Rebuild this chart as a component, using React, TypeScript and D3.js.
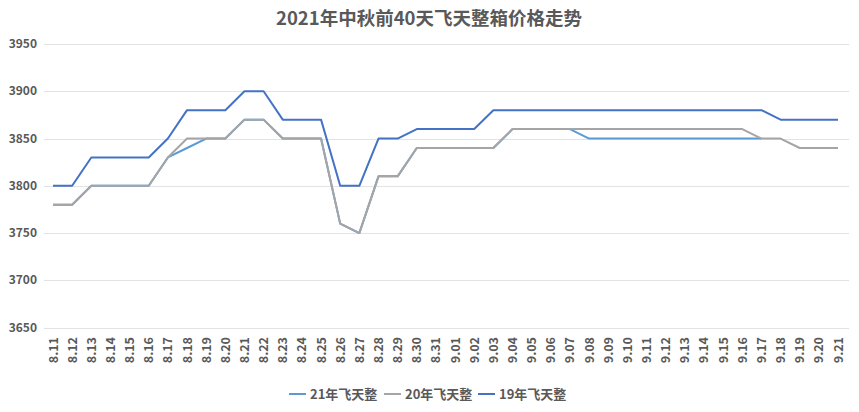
import { useRef, useEffect } from 'react'
import * as d3 from 'd3'

const dates = [
  '8.11', '8.12', '8.13', '8.14', '8.15', '8.16', '8.17', '8.18', '8.19', '8.20', '8.21',
  '8.22', '8.23', '8.24', '8.25', '8.26', '8.27', '8.28', '8.29', '8.30', '8.31',
  '9.01', '9.02', '9.03', '9.04', '9.05', '9.06', '9.07', '9.08', '9.09', '9.10',
  '9.11', '9.12', '9.13', '9.14', '9.15', '9.16', '9.17', '9.18', '9.19', '9.20', '9.21',
]

// 21年: hidden under the 20年 line where the two coincide; data ends 9.17
const price21: (number | null)[] = [
  3780, 3780, 3800, 3800, 3800, 3800, 3830, 3840, 3850, 3850, 3870,
  3870, 3850, 3850, 3850, 3760, 3750, 3810, 3810, 3840, 3840,
  3840, 3840, 3840, 3860, 3860, 3860, 3860, 3850, 3850, 3850,
  3850, 3850, 3850, 3850, 3850, 3850, 3850, null, null, null, null,
]

const price20 = [
  3780, 3780, 3800, 3800, 3800, 3800, 3830, 3850, 3850, 3850, 3870,
  3870, 3850, 3850, 3850, 3760, 3750, 3810, 3810, 3840, 3840,
  3840, 3840, 3840, 3860, 3860, 3860, 3860, 3860, 3860, 3860,
  3860, 3860, 3860, 3860, 3860, 3860, 3850, 3850, 3840, 3840, 3840,
]

const price19 = [
  3800, 3800, 3830, 3830, 3830, 3830, 3850, 3880, 3880, 3880, 3900,
  3900, 3870, 3870, 3870, 3800, 3800, 3850, 3850, 3860, 3860,
  3860, 3860, 3880, 3880, 3880, 3880, 3880, 3880, 3880, 3880,
  3880, 3880, 3880, 3880, 3880, 3880, 3880, 3870, 3870, 3870, 3870,
]

const yTicks = [3650, 3700, 3750, 3800, 3850, 3900, 3950]

const series = [
  { name: '21年飞天整', values: price21, color: '#5B9BD5' },
  { name: '20年飞天整', values: price20, color: '#A5A5A5' },
  { name: '19年飞天整', values: price19, color: '#4472C4' },
]

const FONT = '"Noto Sans CJK SC", "Noto Sans", sans-serif'

export default function App() {
  const svgRef = useRef<SVGSVGElement>(null)

  useEffect(() => {
    if (!svgRef.current) return
    const width = 859
    const height = 412
    const svg = d3.select(svgRef.current)
    svg.selectAll('*').remove()

    svg.append('rect')
      .attr('x', 0.5).attr('y', 0.5)
      .attr('width', width - 1).attr('height', height - 1)
      .attr('fill', '#fff')
      .attr('stroke', '#d9d9d9')

    const plotLeft = 44
    const plotRight = 849

    const xScale = d3.scalePoint<string>()
      .domain(dates)
      .range([53, 838])

    const yScale = d3.scaleLinear()
      .domain([3650, 3950])
      .range([327.6, 44])

    svg.append('text')
      .attr('x', 429)
      .attr('y', 25)
      .attr('text-anchor', 'middle')
      .attr('font-family', FONT)
      .attr('font-size', '18.5px')
      .attr('font-weight', 'bold')
      .attr('fill', '#595959')
      .text('2021年中秋前40天飞天整箱价格走势')

    const grid = svg.append('g')
    grid.selectAll('line')
      .data(yTicks)
      .join('line')
      .attr('x1', plotLeft)
      .attr('x2', plotRight)
      .attr('y1', d => Math.round(yScale(d)) + 0.5)
      .attr('y2', d => Math.round(yScale(d)) + 0.5)
      .attr('stroke', '#e3e3e3')
      .attr('stroke-width', 1)

    grid.selectAll('text')
      .data(yTicks)
      .join('text')
      .attr('x', 37)
      .attr('y', d => yScale(d) + 4)
      .attr('text-anchor', 'end')
      .attr('font-family', FONT)
      .attr('font-size', '12px')
      .attr('font-weight', 'bold')
      .attr('fill', '#595959')
      .text(d => d)

    svg.append('g')
      .selectAll('text')
      .data(dates)
      .join('text')
      .attr('transform', d => `translate(${(xScale(d) || 0) + 4.5},337) rotate(-90)`)
      .attr('text-anchor', 'end')
      .attr('font-family', FONT)
      .attr('font-size', '12.5px')
      .attr('font-weight', 'bold')
      .attr('fill', '#595959')
      .text(d => d)

    const line = d3.line<number | null>()
      .defined(d => d !== null)
      .x((_, i) => xScale(dates[i]) || 0)
      .y(d => yScale(d as number))

    series.forEach(s => {
      svg.append('path')
        .datum(s.values)
        .attr('fill', 'none')
        .attr('stroke', s.color)
        .attr('stroke-width', 2)
        .attr('stroke-linejoin', 'round')
        .attr('d', line)
    })

    const legendX = [289, 384, 478]
    const legend = svg.append('g')
    series.forEach((s, i) => {
      legend.append('line')
        .attr('x1', legendX[i])
        .attr('x2', legendX[i] + 17)
        .attr('y1', 394)
        .attr('y2', 394)
        .attr('stroke', s.color)
        .attr('stroke-width', 2)
      legend.append('text')
        .attr('x', legendX[i] + 21)
        .attr('y', 398.5)
        .attr('font-family', FONT)
        .attr('font-size', '13px')
        .attr('font-weight', 'bold')
        .attr('fill', '#595959')
        .text(s.name)
    })
  }, [])

  return (
    <div style={{ width: 859, height: 412, margin: -8 }}>
      <svg ref={svgRef} width={859} height={412} style={{ display: 'block' }} />
    </div>
  )
}
